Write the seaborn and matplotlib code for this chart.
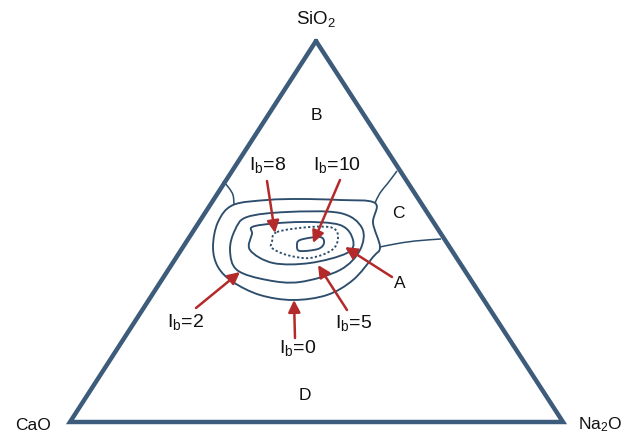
import numpy as np
import pandas as pd
import matplotlib
matplotlib.use("Agg")
import matplotlib.pyplot as plt
from matplotlib.path import Path
from matplotlib.patches import PathPatch
import seaborn as sns

# Triangle corners (plot units: x to the right, y downward)
corner_names = ["SiO$_2$", "CaO", "Na$_2$O"]
corner_x = [316, 70, 563]
corner_y = [41, 422, 422]

# Iso-index contours (closed curves)
ib0_x = [233, 267, 300, 340, 375, 373, 380, 373, 353, 327, 293, 260, 233, 218, 213, 218]
ib0_y = [205, 200, 199, 200, 203, 223, 247, 257, 280, 295, 300, 295, 282, 267, 247, 222]
ib2_x = [247, 287, 340, 362, 360, 340, 300, 267, 237, 230, 235]
ib2_y = [217, 212, 213, 228, 250, 270, 282, 280, 270, 250, 230]
ib5_x = [255, 300, 340, 353, 347, 310, 273, 250, 252]
ib5_y = [226, 222, 225, 240, 253, 263, 263, 250, 234]
ib8_x = [277, 310, 333, 338, 332, 310, 287, 272, 272]
ib8_y = [232, 227, 228, 238, 250, 258, 255, 248, 242]
ib10_x = [300, 320, 324, 318, 300, 297]
ib10_y = [240, 237, 243, 249, 251, 246]

# Field boundaries (open curves)
b_bound_x = [223, 229, 233, 234]
b_bound_y = [181, 188, 195, 204]
c_top_x = [397, 388, 380, 375]
c_top_y = [171, 183, 193, 203]
c_bot_x = [380, 395, 415, 441]
c_bot_y = [247, 244, 241, 239]

# Field letters
field_labels = ["B", "C", "D", "A"]
field_x = [316, 398, 305, 400]
field_y = [115, 213, 395, 283]

# Contour annotations: label, text position, arrow tail, arrow head
ann_labels = ["I$_\\mathrm{b}$=8", "I$_\\mathrm{b}$=10", "I$_\\mathrm{b}$=5",
              "I$_\\mathrm{b}$=2", "I$_\\mathrm{b}$=0", ""]
ann_text_x = [268, 337, 354, 185, 298, 0]
ann_text_y = [165, 165, 323, 322, 348, 0]
ann_tail_x = [267, 340, 347, 196, 295, 392]
ann_tail_y = [181, 180, 310, 308, 338, 277]
ann_head_x = [275, 313, 318, 240, 294, 345]
ann_head_y = [233, 243, 265, 272, 300, 247]

EDGE = "#3d5b7a"
LINE = "#2c4d6c"
ARROW = "#b42a2a"

sns.set_theme(style="white")
plt.rcParams["font.family"] = ["Liberation Sans", "DejaVu Sans"]
plt.rcParams["mathtext.fontset"] = "custom"
plt.rcParams["mathtext.rm"] = "Liberation Sans"
plt.rcParams["mathtext.it"] = "Liberation Sans"

fig = plt.figure(figsize=(6.3, 4.34), dpi=100)
ax = fig.add_axes([0, 0, 1, 1])
ax.set_xlim(0, 630)
ax.set_ylim(434, 0)
ax.set_axis_off()


def smooth_path(xs, ys, closed):
    pts = np.column_stack([xs, ys]).astype(float)
    n = len(pts)
    if closed:
        ext = np.vstack([pts[-1], pts, pts[0], pts[1]])
        nseg = n
    else:
        ext = np.vstack([pts[0], pts, pts[-1]])
        nseg = n - 1
    verts = [tuple(ext[1])]
    codes = [Path.MOVETO]
    for i in range(1, nseg + 1):
        p0, p1, p2, p3 = ext[i - 1], ext[i], ext[i + 1], ext[i + 2]
        c1 = p1 + (p2 - p0) / 6.0
        c2 = p2 - (p3 - p1) / 6.0
        verts += [tuple(c1), tuple(c2), tuple(p2)]
        codes += [Path.CURVE4] * 3
    return Path(verts, codes)


# Outer triangle
tri = pd.DataFrame({"x": corner_x + [corner_x[0]], "y": corner_y + [corner_y[0]],
                    "order": range(4)})
sns.lineplot(data=tri, x="x", y="y", sort=False, estimator=None, ax=ax,
             color=EDGE, linewidth=3.2, solid_joinstyle="miter")

# Contours
for xs, ys, ls in [(ib0_x, ib0_y, "-"), (ib2_x, ib2_y, "-"), (ib5_x, ib5_y, "-"),
                   (ib8_x, ib8_y, (0, (1.2, 1.2))), (ib10_x, ib10_y, "-")]:
    ax.add_patch(PathPatch(smooth_path(xs, ys, True), fill=False,
                           edgecolor=LINE, linewidth=1.35, linestyle=ls))

for xs, ys in [(b_bound_x, b_bound_y), (c_top_x, c_top_y), (c_bot_x, c_bot_y)]:
    ax.add_patch(PathPatch(smooth_path(xs, ys, False), fill=False,
                           edgecolor=LINE, linewidth=1.1))

# Corner labels
ax.text(316, 19, corner_names[0], ha="center", va="center", fontsize=13.5, color="#111111")
ax.text(33, 425, corner_names[1], ha="center", va="center", fontsize=12.5, color="#111111")
ax.text(600, 425, corner_names[2], ha="center", va="center", fontsize=12.5, color="#111111")

for lab, x, y in zip(field_labels, field_x, field_y):
    ax.text(x, y, lab, ha="center", va="center", fontsize=12.5, color="#111111")

# Arrows
for lab, tx, ty, sx, sy, hx, hy in zip(ann_labels, ann_text_x, ann_text_y,
                                       ann_tail_x, ann_tail_y, ann_head_x, ann_head_y):
    ax.annotate("", xy=(hx, hy), xytext=(sx, sy),
                arrowprops=dict(arrowstyle="-|>,head_length=0.6,head_width=0.3",
                                color=ARROW, lw=1.8, shrinkA=0, shrinkB=0))
    if lab:
        ax.text(tx, ty, lab, ha="center", va="center", fontsize=14, color="#111111")

fig.savefig("out.png", dpi=100)
